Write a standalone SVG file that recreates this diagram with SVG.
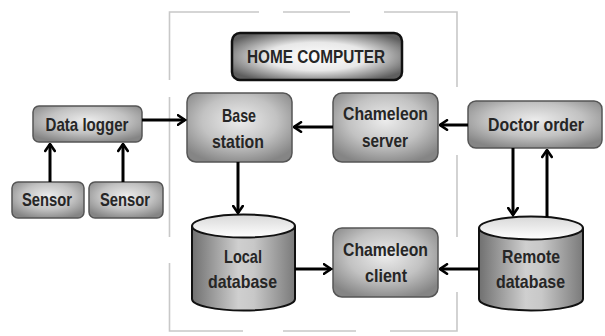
<svg xmlns="http://www.w3.org/2000/svg" width="605" height="336" viewBox="0 0 605 336">
<defs>
<radialGradient id="gBox" cx="50%" cy="40%" r="65%">
<stop offset="0" stop-color="#ececec"/>
<stop offset="0.55" stop-color="#c2c2c2"/>
<stop offset="1" stop-color="#858585"/>
</radialGradient>
<radialGradient id="gHome" cx="50%" cy="50%" r="60%">
<stop offset="0" stop-color="#ffffff"/>
<stop offset="0.5" stop-color="#e8e8e8"/>
<stop offset="1" stop-color="#5e5e5e"/>
</radialGradient>
<linearGradient id="gCyl" x1="0" y1="0" x2="1" y2="0">
<stop offset="0" stop-color="#707070"/>
<stop offset="0.45" stop-color="#cfcfcf"/>
<stop offset="0.6" stop-color="#c8c8c8"/>
<stop offset="1" stop-color="#7a7a7a"/>
</linearGradient>
<linearGradient id="gTop" x1="0" y1="0" x2="0" y2="1">
<stop offset="0" stop-color="#d8d8d8"/>
<stop offset="1" stop-color="#ffffff"/>
</linearGradient>
<marker id="arr" viewBox="0 0 10 12" refX="8.5" refY="6" markerWidth="10" markerHeight="12" markerUnits="userSpaceOnUse" orient="auto">
<path d="M1.5,1.2 L8.5,6 L1.5,10.8" fill="none" stroke="#000" stroke-width="2.6" stroke-linecap="round" stroke-linejoin="miter"/>
</marker>
</defs>
<style>
.box{fill:url(#gBox);stroke:#555;stroke-width:1.5}
.home{fill:url(#gHome);stroke:#111;stroke-width:2.5}
.cyl{fill:url(#gCyl);stroke:#111;stroke-width:2}
.top{fill:url(#gTop);stroke:#111;stroke-width:2}
.t{font-family:"Liberation Sans",Arial,sans-serif;font-weight:bold;font-size:19px;fill:#262626;text-anchor:middle}
.c{fill:none;stroke:#000;stroke-width:3;marker-end:url(#arr)}
.b{fill:none;stroke:#c8c8c8;stroke-width:1.6}
</style>
<rect width="605" height="336" fill="#fff"/>
<g id="border">
<path class="b" d="M169.5,80 V12 H259 M283,12 H350 M384,12 H457 V87 M169.5,97 V237 M169.5,263 V331 H243 M283,331 H356 M390,331 H457 V292 M457,155 V237"/>
</g>
<g id="home-computer">
<rect class="home" x="232" y="33" width="170" height="47" rx="8"/>
<text class="t" x="316" y="63" font-size="21" textLength="138" lengthAdjust="spacingAndGlyphs">HOME COMPUTER</text>
</g>
<g id="data-logger">
<rect class="box" x="33" y="106" width="109" height="36" rx="6"/>
<text class="t" x="87" y="130.5" textLength="83" lengthAdjust="spacingAndGlyphs">Data logger</text>
</g>
<g id="sensor1">
<rect class="box" x="12" y="182" width="72" height="36" rx="6"/>
<text class="t" x="47" y="205.5" textLength="50" lengthAdjust="spacingAndGlyphs">Sensor</text>
</g>
<g id="sensor2">
<rect class="box" x="89" y="182" width="74" height="36" rx="6"/>
<text class="t" x="125" y="205.5" textLength="50" lengthAdjust="spacingAndGlyphs">Sensor</text>
</g>
<g id="base-station">
<rect class="box" x="187" y="93" width="105" height="69" rx="9"/>
<text class="t" x="239" y="122" font-size="20" textLength="34" lengthAdjust="spacingAndGlyphs">Base</text>
<text class="t" x="238" y="148" font-size="20" textLength="52" lengthAdjust="spacingAndGlyphs">station</text>
</g>
<g id="chameleon-server">
<rect class="box" x="333" y="93" width="105" height="69" rx="9"/>
<text class="t" x="385.5" y="120" font-size="20" textLength="85" lengthAdjust="spacingAndGlyphs">Chameleon</text>
<text class="t" x="385" y="147" font-size="20" textLength="46" lengthAdjust="spacingAndGlyphs">server</text>
</g>
<g id="doctor-order">
<rect class="box" x="468" y="101" width="134" height="47" rx="8"/>
<text class="t" x="536" y="131" textLength="96" lengthAdjust="spacingAndGlyphs">Doctor order</text>
</g>
<g id="local-database">
<path class="cyl" d="M192,226 V299 A51.5,11.5 0 0 0 295,299 V226"/>
<ellipse class="top" cx="243.5" cy="226" rx="51.5" ry="11.5"/>
<text class="t" x="243" y="263" font-size="20" textLength="38" lengthAdjust="spacingAndGlyphs">Local</text>
<text class="t" x="242.5" y="288" font-size="20" textLength="69" lengthAdjust="spacingAndGlyphs">database</text>
</g>
<g id="chameleon-client">
<rect class="box" x="333" y="228" width="105" height="69" rx="9"/>
<text class="t" x="385.5" y="256" font-size="20" textLength="85" lengthAdjust="spacingAndGlyphs">Chameleon</text>
<text class="t" x="386" y="282" font-size="20" textLength="42" lengthAdjust="spacingAndGlyphs">client</text>
</g>
<g id="remote-database">
<path class="cyl" d="M479,228 V299 A52,11.5 0 0 0 583,299 V228"/>
<ellipse class="top" cx="531" cy="228" rx="52" ry="11.5"/>
<text class="t" x="531" y="263" font-size="20" textLength="58" lengthAdjust="spacingAndGlyphs">Remote</text>
<text class="t" x="530.5" y="288" font-size="20" textLength="69" lengthAdjust="spacingAndGlyphs">database</text>
</g>
<g id="connectors">
<path class="c" d="M50,182 V144"/>
<path class="c" d="M123,182 V144"/>
<path class="c" d="M142,120 H185"/>
<path class="c" d="M333,127 H294"/>
<path class="c" d="M238,162 V213"/>
<path class="c" d="M295,269 H331"/>
<path class="c" d="M468,125 H440"/>
<path class="c" d="M513,148 V215"/>
<path class="c" d="M547,217 V150"/>
<path class="c" d="M479,269 H440"/>
</g>
</svg>
